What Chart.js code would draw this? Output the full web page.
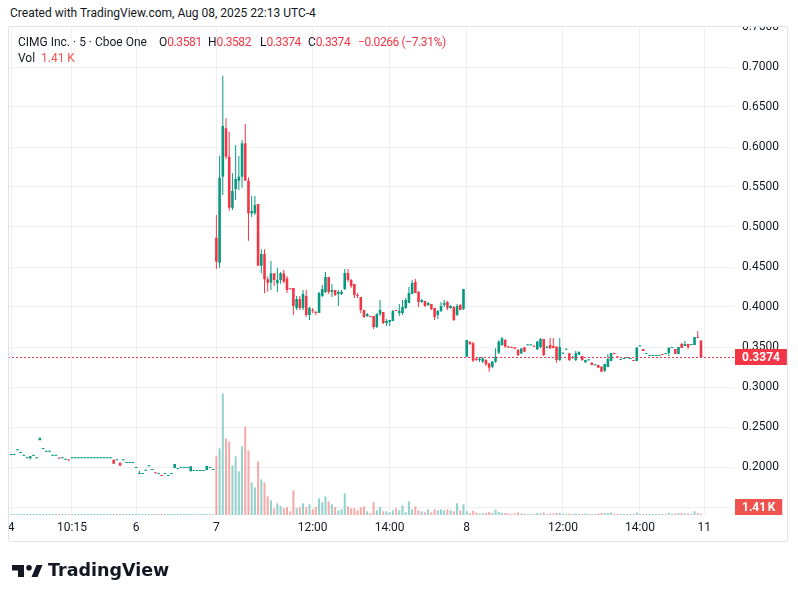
<!DOCTYPE html>
<html lang="en">
<head>
<meta charset="UTF-8">
<title>CIMG 5m</title>
<script src="https://cdn.jsdelivr.net/npm/chart.js@4.4.1/dist/chart.umd.min.js"></script>
<style>
  body { margin: 0; background: #fff; }
  #wrap { position: relative; width: 798px; height: 603px; overflow: hidden;
          font-family: Roboto, "Liberation Sans", sans-serif; font-size: 12px; color: #131722; }
  #wrap canvas { position: absolute; left: 0; top: 0; }
  .abs { position: absolute; white-space: nowrap; line-height: 14px; }
  .red { color: #F23645; letter-spacing: -0.4px; }
  #cover { left: 0; top: 0; width: 798px; height: 26px; background: #fff; }
  #frame { left: 8px; top: 26px; width: 780px; height: 516px; box-sizing: border-box;
           border: 1px solid #e0e3eb; border-radius: 3px; pointer-events: none; }
  #logo { left: 48px; top: 559px; font-family: "DejaVu Sans", sans-serif; font-weight: bold;
          font-size: 17.5px; line-height: 22px; }
</style>
</head>
<body>
<div id="wrap">
  <canvas id="chart" width="798" height="603"></canvas>
  <div id="cover" class="abs"></div>
  <div id="frame" class="abs"></div>
  <div class="abs" style="left:10px;top:6px">Created with TradingView.com, Aug 08, 2025 22:13 UTC-4</div>
  <div class="abs" style="left:18px;top:35px">CIMG Inc. · 5 · Cboe One</div>
  <div class="abs" style="left:159px;top:35px">O<span class="red">0.3581</span></div>
  <div class="abs" style="left:208px;top:35px">H<span class="red">0.3582</span></div>
  <div class="abs" style="left:260px;top:35px">L<span class="red">0.3374</span></div>
  <div class="abs" style="left:308px;top:35px">C<span class="red">0.3374</span></div>
  <div class="abs red" style="left:358px;top:35px">−0.0266 (−7.31%)</div>
  <div class="abs" style="left:18px;top:51px">Vol</div>
  <div class="abs" style="left:41px;top:51px;color:#ef5350">1.41 K</div>
  <svg class="abs" style="left:0;top:0" width="60" height="603">
    <path d="M12 565 H24 V577 H18 V570.5 H12 Z" fill="#131722"/>
    <circle cx="29" cy="567.8" r="2.8" fill="#131722"/>
    <path d="M36.5 565 H42.5 L37.5 577 H31.5 Z" fill="#131722"/>
  </svg>
  <div id="logo" class="abs">TradingView</div>
</div>

<script>
    // 5 minute bars, [open, high, low, close]
    // Aug 4 - Aug 6 (thin trading)
    const ohlcEarly = [
        [0.215, 0.215, 0.215, 0.215], [0.215, 0.215, 0.215, 0.215], [0.221, 0.221, 0.221, 0.221],
        [0.2175, 0.2175, 0.2175, 0.2175], [0.214, 0.214, 0.214, 0.214], [0.211, 0.211, 0.211, 0.211],
        [0.211, 0.2135, 0.2095, 0.2135], [0.214, 0.214, 0.214, 0.214], [0.211, 0.211, 0.211, 0.211],
        [0.2335, 0.2365, 0.2335, 0.2365], [0.2225, 0.2225, 0.2225, 0.2225], [0.219, 0.219, 0.219, 0.219],
        [0.219, 0.219, 0.219, 0.219], [0.214, 0.214, 0.214, 0.214], [0.214, 0.214, 0.214, 0.214],
        [0.2112, 0.2112, 0.2105, 0.2105], [0.211, 0.211, 0.211, 0.211], [0.209, 0.209, 0.209, 0.209],
        [0.2088, 0.2088, 0.2082, 0.2082], [0.211, 0.211, 0.211, 0.211], [0.211, 0.211, 0.211, 0.211],
        [0.211, 0.211, 0.211, 0.211], [0.211, 0.211, 0.211, 0.211], [0.211, 0.211, 0.211, 0.211],
        [0.211, 0.211, 0.211, 0.211], [0.211, 0.211, 0.211, 0.211], [0.211, 0.211, 0.211, 0.211],
        [0.211, 0.211, 0.211, 0.211], [0.211, 0.211, 0.211, 0.211], [0.211, 0.211, 0.211, 0.211],
        [0.211, 0.211, 0.211, 0.211], [0.211, 0.211, 0.211, 0.211], [0.2091, 0.2091, 0.2041, 0.2041],
        [0.2085, 0.2085, 0.2085, 0.2085], [0.2054, 0.2054, 0.2016, 0.2016], [0.2084, 0.2084, 0.2084, 0.2084],
        [0.205, 0.205, 0.205, 0.205], [0.205, 0.205, 0.205, 0.205], [0.205, 0.205, 0.205, 0.205],
        [0.1988, 0.1988, 0.1988, 0.1988], [0.1913, 0.1954, 0.1913, 0.1921], [0.1913, 0.1913, 0.1913, 0.1913],
        [0.1954, 0.1954, 0.1954, 0.1954], [0.2009, 0.2009, 0.2009, 0.2009], [0.1963, 0.1963, 0.1963, 0.1963],
        [0.1929, 0.1929, 0.1921, 0.1921], [0.1913, 0.1913, 0.1913, 0.1913], [0.19, 0.19, 0.1888, 0.1888],
        [0.1913, 0.1913, 0.1913, 0.1913], [0.1888, 0.1888, 0.1888, 0.1888], [0.1913, 0.1913, 0.1913, 0.1913],
        [0.1988, 0.2038, 0.1988, 0.2038], [0.1975, 0.1975, 0.1975, 0.1975], [0.1988, 0.1988, 0.1988, 0.1988],
        [0.1988, 0.1988, 0.1988, 0.1988], [0.1988, 0.1988, 0.1988, 0.1988], [0.1946, 0.2009, 0.1946, 0.2009],
        [0.195, 0.195, 0.195, 0.195], [0.195, 0.195, 0.195, 0.195], [0.195, 0.195, 0.195, 0.195],
        [0.195, 0.195, 0.195, 0.195], [0.1963, 0.2013, 0.1963, 0.2013], [0.1988, 0.1988, 0.1988, 0.1988],
        [0.1963, 0.1963, 0.1963, 0.1963]
    ];
    // Aug 7
    const ohlcAug7 = [
        [0.4866, 0.515, 0.4475, 0.4566], [0.4554, 0.5888, 0.4491, 0.5616], [0.5629, 0.6891, 0.54, 0.6263],
        [0.6234, 0.6359, 0.5846, 0.5879], [0.5879, 0.6191, 0.5204, 0.5241], [0.5241, 0.5671, 0.5213, 0.545],
        [0.5475, 0.6025, 0.5338, 0.56], [0.5579, 0.5888, 0.5463, 0.5629], [0.5629, 0.6088, 0.5491, 0.6046],
        [0.6046, 0.6288, 0.5579, 0.5579], [0.5579, 0.5621, 0.4829, 0.5171], [0.5171, 0.5388, 0.5125, 0.52],
        [0.5171, 0.5388, 0.515, 0.5275], [0.5288, 0.5288, 0.4516, 0.4516], [0.4516, 0.4721, 0.4421, 0.4663],
        [0.4663, 0.4721, 0.4171, 0.4346], [0.4346, 0.4379, 0.4191, 0.4304], [0.4304, 0.4575, 0.4213, 0.4421],
        [0.4421, 0.4421, 0.4263, 0.4338], [0.4296, 0.449, 0.4188, 0.4338], [0.4338, 0.4438, 0.4292, 0.4421],
        [0.4421, 0.4463, 0.4296, 0.4317], [0.4358, 0.4388, 0.4175, 0.4213], [0.4233, 0.4233, 0.4221, 0.4221],
        [0.4238, 0.4238, 0.39, 0.4013], [0.3988, 0.4138, 0.3963, 0.41], [0.41, 0.4138, 0.3963, 0.3988],
        [0.3988, 0.4213, 0.3963, 0.4163], [0.4138, 0.4213, 0.3875, 0.39], [0.39, 0.4004, 0.3838, 0.3988],
        [0.3963, 0.3988, 0.3925, 0.395], [0.3938, 0.395, 0.39, 0.3925], [0.3925, 0.4188, 0.3925, 0.4175],
        [0.4138, 0.4275, 0.4125, 0.4225], [0.4188, 0.4438, 0.4175, 0.4375], [0.4375, 0.4375, 0.4163, 0.4188],
        [0.4188, 0.4288, 0.4125, 0.4213], [0.4213, 0.4213, 0.4138, 0.415], [0.4163, 0.4213, 0.4013, 0.4188],
        [0.4163, 0.4213, 0.415, 0.4188], [0.4225, 0.4475, 0.4213, 0.4425], [0.4425, 0.4475, 0.4313, 0.4338],
        [0.4338, 0.435, 0.4238, 0.4263], [0.4288, 0.4288, 0.4113, 0.415], [0.415, 0.4175, 0.4113, 0.4138],
        [0.4125, 0.4125, 0.3925, 0.3963], [0.3963, 0.3963, 0.3863, 0.3875], [0.3888, 0.3925, 0.3875, 0.3913],
        [0.3888, 0.3888, 0.3875, 0.3875], [0.3888, 0.3888, 0.3725, 0.375], [0.375, 0.3925, 0.3738, 0.3913],
        [0.3913, 0.4088, 0.3888, 0.3963], [0.3938, 0.3938, 0.3788, 0.38], [0.38, 0.385, 0.3763, 0.3825],
        [0.3813, 0.3838, 0.3763, 0.3838], [0.3825, 0.3963, 0.3825, 0.395], [0.3963, 0.3963, 0.395, 0.395],
        [0.3925, 0.4038, 0.3888, 0.395], [0.3925, 0.4088, 0.39, 0.4], [0.3988, 0.4113, 0.3975, 0.4088],
        [0.405, 0.425, 0.405, 0.4175], [0.4163, 0.4338, 0.4163, 0.43], [0.4313, 0.435, 0.4175, 0.4175],
        [0.4188, 0.42, 0.4, 0.4063], [0.4063, 0.41, 0.405, 0.4088], [0.4075, 0.4075, 0.4, 0.4013],
        [0.4025, 0.4063, 0.4013, 0.405], [0.4038, 0.4038, 0.3963, 0.3975], [0.3988, 0.3988, 0.3838, 0.3875],
        [0.39, 0.3963, 0.385, 0.395], [0.395, 0.4063, 0.3938, 0.4013], [0.4025, 0.4088, 0.4, 0.405],
        [0.4063, 0.4075, 0.3963, 0.3988], [0.3988, 0.4025, 0.3975, 0.4013], [0.4, 0.4013, 0.3825, 0.3838],
        [0.39, 0.4038, 0.3888, 0.4013], [0.4025, 0.4038, 0.3963, 0.3963], [0.3975, 0.4225, 0.3963, 0.4225]
    ];
    // Aug 8
    const ohlcAug8 = [
        [0.3379, 0.3588, 0.3379, 0.3588], [0.3563, 0.3575, 0.3525, 0.3538], [0.3546, 0.3563, 0.3313, 0.3329],
        [0.3354, 0.3363, 0.3325, 0.3338], [0.3338, 0.3375, 0.3313, 0.3354], [0.3317, 0.3375, 0.33, 0.3358],
        [0.3338, 0.335, 0.3263, 0.3283], [0.3296, 0.33, 0.3192, 0.3242], [0.3254, 0.3325, 0.3238, 0.3317],
        [0.3317, 0.3483, 0.3304, 0.3379], [0.3429, 0.3583, 0.3413, 0.3567], [0.3525, 0.3629, 0.3517, 0.3608],
        [0.3588, 0.36, 0.3492, 0.3504], [0.3508, 0.3513, 0.3488, 0.3496], [0.35, 0.3504, 0.3488, 0.3488],
        [0.3496, 0.35, 0.3475, 0.3479], [0.3463, 0.3475, 0.3388, 0.34], [0.3421, 0.3488, 0.3408, 0.3483],
        [0.3496, 0.3504, 0.3438, 0.3442], [0.3521, 0.3529, 0.3521, 0.3529], [0.3521, 0.3525, 0.3521, 0.3521],
        [0.3517, 0.3517, 0.3504, 0.3504], [0.3471, 0.3575, 0.3463, 0.3567], [0.35, 0.3613, 0.3483, 0.36],
        [0.36, 0.36, 0.3388, 0.34], [0.3488, 0.3508, 0.3483, 0.3504], [0.3525, 0.3613, 0.3475, 0.3483],
        [0.3513, 0.3613, 0.3483, 0.3488], [0.3504, 0.3508, 0.3304, 0.3338], [0.3338, 0.3613, 0.3325, 0.35],
        [0.3417, 0.3425, 0.3417, 0.3425], [0.3467, 0.3475, 0.3467, 0.3475], [0.3421, 0.3425, 0.3325, 0.3338],
        [0.3363, 0.3388, 0.3354, 0.3375], [0.3338, 0.3454, 0.3325, 0.3421], [0.3404, 0.3446, 0.3396, 0.3438],
        [0.3388, 0.3392, 0.3325, 0.3338], [0.3309, 0.3342, 0.33, 0.3338], [0.3333, 0.3342, 0.3333, 0.3342],
        [0.3304, 0.3308, 0.3271, 0.3275], [0.3271, 0.3279, 0.3271, 0.3279], [0.3275, 0.3279, 0.3238, 0.3242],
        [0.3254, 0.3258, 0.3188, 0.3192], [0.3204, 0.3292, 0.3188, 0.3288], [0.325, 0.3413, 0.3246, 0.335],
        [0.3325, 0.3429, 0.3321, 0.3425], [0.3425, 0.3429, 0.3408, 0.3413], [0.3383, 0.3383, 0.3371, 0.3371],
        [0.3338, 0.3338, 0.3338, 0.3338], [0.335, 0.335, 0.335, 0.335], [0.3363, 0.3363, 0.3363, 0.3363],
        [0.335, 0.335, 0.335, 0.335], [0.3338, 0.3338, 0.3325, 0.3325], [0.3325, 0.3496, 0.3321, 0.3492],
        [0.3508, 0.3517, 0.3508, 0.3517], [0.3475, 0.3475, 0.345, 0.345], [0.3413, 0.3413, 0.3413, 0.3413],
        [0.3388, 0.3388, 0.3388, 0.3388], [0.3388, 0.3388, 0.3388, 0.3388], [0.3388, 0.3388, 0.3388, 0.3388],
        [0.3388, 0.3388, 0.3388, 0.3388], [0.3413, 0.3413, 0.34, 0.34], [0.3413, 0.3413, 0.3413, 0.3413],
        [0.3425, 0.3492, 0.3388, 0.3492], [0.3488, 0.3488, 0.3488, 0.3488], [0.3475, 0.3475, 0.3413, 0.3413],
        [0.3413, 0.35, 0.3413, 0.35], [0.3538, 0.355, 0.3488, 0.3488], [0.3513, 0.3575, 0.3513, 0.3538],
        [0.3538, 0.3538, 0.3475, 0.35], [0.3525, 0.3525, 0.3525, 0.3525], [0.3525, 0.3625, 0.3525, 0.3625],
        [0.3625, 0.37, 0.3613, 0.3613], [0.3581, 0.3582, 0.3374, 0.3374]
    ];

    // volume per bar, thousands of shares
    const volEarly = [
        10, 8, 12, 9, 11, 10, 14, 9, 10, 16, 11, 9, 10, 8, 12, 10,
        9, 11, 10, 8, 9, 10, 12, 9, 8, 10, 11, 9, 10, 12, 9, 14,
        10, 12, 9, 11, 10, 8, 12, 10, 13, 9, 10, 11, 8, 12, 9, 10,
        11, 9, 12, 14, 10, 9, 11, 10, 13, 9, 10, 8, 11, 14, 9, 10
    ];
    const volAug7 = [
        1438, 1634, 2982, 1879, 1806, 1218, 1438, 1071, 1683, 2173,
        1585, 801, 679, 1316, 875, 801, 458, 360, 164, 287,
        213, 164, 189, 91, 605, 164, 189, 287, 189, 262,
        140, 189, 409, 311, 458, 336, 262, 189, 115, 140,
        532, 213, 164, 164, 115, 189, 213, 91, 42, 311,
        115, 189, 91, 91, 66, 115, 164, 115, 238, 66,
        336, 140, 213, 115, 91, 66, 140, 66, 140, 115,
        140, 115, 140, 115, 91, 287, 115, 262
    ];
    const volAug8 = [
        91, 49, 105, 61, 37, 37, 49, 74, 49, 130,
        74, 49, 49, 37, 25, 37, 61, 37, 37, 25,
        25, 25, 49, 37, 61, 25, 37, 37, 49, 49,
        25, 25, 37, 25, 37, 25, 25, 37, 25, 25,
        25, 37, 49, 49, 49, 61, 25, 25, 25, 25,
        25, 25, 25, 61, 25, 25, 25, 25, 25, 25,
        25, 25, 25, 49, 25, 37, 49, 49, 37, 37,
        25, 91, 49, 1.41
    ];

    // time scale labels at bar index
    const timeTicks = [0, 19, 39, 64, 94, 118, 142, 172, 196, 216];
    const timeLabels = ['4', '10:15', '6', '7', '12:00', '14:00', '8', '12:00', '14:00', '11'];
    const priceTicks = [0.15, 0.2, 0.25, 0.3, 0.35, 0.4, 0.45, 0.5, 0.55, 0.6, 0.65, 0.7, 0.75];

    const lastClose = 0.3374;
    const lastVolText = '1.41\u202FK';

    const bars = ohlcEarly.concat(ohlcAug7, ohlcAug8);
    const vols = volEarly.concat(volAug7, volAug8);
    const isUp = bars.map(b => b[3] >= b[0]);
    const candleColors = isUp.map(u => u ? '#089981' : '#F23645');
    const volColors = isUp.map(u => u ? 'rgba(38,166,154,0.5)' : 'rgba(239,83,80,0.5)');
    const gridColor = '#f0f0f1';

    Chart.defaults.font.family = 'Roboto, "Liberation Sans", sans-serif';
    Chart.defaults.font.size = 12;
    Chart.defaults.color = '#131722';

    function badge(ctx, x, y, text, color) {
        ctx.font = 'bold 12px Roboto, "Liberation Sans", sans-serif';
        const w = ctx.measureText(text).width + 14;
        ctx.fillStyle = color;
        ctx.fillRect(x, y, w, 16);
        ctx.fillStyle = '#fff';
        ctx.textBaseline = 'middle';
        ctx.textAlign = 'left';
        ctx.fillText(text, x + 7, y + 8.5);
    }

    // last price line + axis badges
    const lastValue = {
        id: 'lastValue',
        afterDatasetsDraw(chart) {
            const { ctx, chartArea: { left, right }, scales: { y } } = chart;
            const py = Math.round(y.getPixelForValue(lastClose)) + 0.5;
            ctx.save();
            ctx.strokeStyle = '#F23645';
            ctx.lineWidth = 1;
            ctx.setLineDash([2, 2]);
            ctx.beginPath();
            ctx.moveTo(left, py);
            ctx.lineTo(right, py);
            ctx.stroke();
            ctx.restore();
        },
        afterDraw(chart) {
            const { ctx, chartArea: { right, bottom }, scales: { y, yv } } = chart;
            ctx.save();
            const py = y.getPixelForValue(lastClose);
            badge(ctx, right + 1, Math.round(py) - 8, lastClose.toFixed(4), '#F23645');
            const vy = Math.min(yv.getPixelForValue(vols[vols.length - 1]) - 8, bottom - 16);
            badge(ctx, right + 1, Math.round(vy), lastVolText, '#ef5350');
            ctx.restore();
        }
    };

    new Chart(document.getElementById('chart'), {
        type: 'bar',
        data: {
            datasets: [{
                label: 'Volume',
                data: vols.map((v, i) => ({ x: i, y: v })),
                yAxisID: 'yv',
                backgroundColor: volColors,
                barThickness: 2,
                minBarLength: 1,
                order: 3
            }, {
                label: 'Wick',
                data: bars.map((b, i) => ({ x: i, y: [b[2], b[1]] })),
                yAxisID: 'y',
                backgroundColor: candleColors,
                barThickness: 1,
                minBarLength: 1,
                order: 2
            }, {
                label: 'Body',
                data: bars.map((b, i) => ({ x: i, y: [b[0], b[3]] })),
                yAxisID: 'y',
                backgroundColor: candleColors,
                barThickness: 2.6,
                minBarLength: 1,
                order: 1
            }]
        },
        options: {
            animation: false,
            responsive: false,
            layout: { padding: { left: 8, top: 26, right: 10, bottom: 63 } },
            datasets: { bar: { grouped: false, inflateAmount: 0 } },
            plugins: { legend: { display: false }, tooltip: { enabled: false } },
            scales: {
                x: {
                    type: 'linear',
                    min: -0.935,
                    max: 225.3,
                    offset: false,
                    grid: { color: gridColor, offset: false, drawTicks: false },
                    border: { display: false },
                    ticks: {
                        autoSkip: false,
                        maxRotation: 0,
                        padding: 6,
                        callback: v => timeLabels[timeTicks.indexOf(v)]
                    },
                    afterBuildTicks: s => { s.ticks = timeTicks.map(v => ({ value: v })); },
                    afterFit: s => { s.height = 25; }
                },
                y: {
                    position: 'right',
                    min: 0.14,
                    max: 0.75125,
                    grid: { color: gridColor, drawTicks: false },
                    border: { display: false },
                    ticks: { autoSkip: false, padding: 8, callback: v => v.toFixed(4) },
                    afterBuildTicks: s => { s.ticks = priceTicks.map(v => ({ value: v })); },
                    afterFit: s => { s.width = 54; }
                },
                yv: { display: false, min: 0, max: 12000 }
            }
        },
        plugins: [lastValue]
    });
</script>
</body>
</html>
